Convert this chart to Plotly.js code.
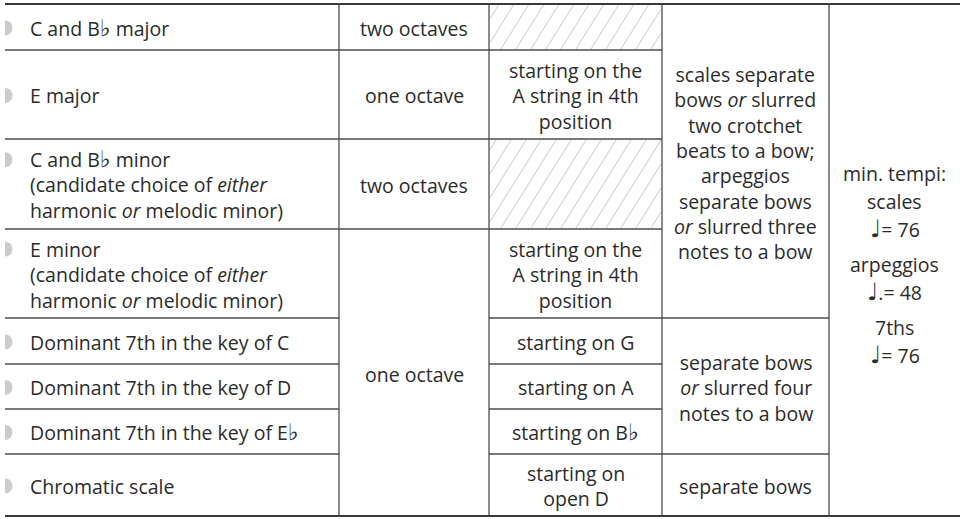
<!DOCTYPE html>
<html>
<head>
<meta charset="utf-8">
<script src="https://cdn.plot.ly/plotly-3.0.1.min.js"></script>
<style>html,body{margin:0;padding:0;background:#fff;}#chart{width:960px;height:519px;}</style>
</head>
<body>
<div id="chart"></div>
<script>
// ---------- DATA (text content and cell spans, by row index) ----------
const FLAT = "<span style=\"font-family:DejaVu Sans;font-weight:bold;font-size:23px\">♭</span>";
const NOTE = "<span style=\"font-family:DejaVu Sans;font-size:24px\">♩</span>";
const rowLabels = [
  ["C and B" + FLAT + " major"],
  ["E major"],
  ["C and B" + FLAT + " minor", "(candidate choice of <i>either</i>", "harmonic <i>or</i> melodic minor)"],
  ["E minor", "(candidate choice of <i>either</i>", "harmonic <i>or</i> melodic minor)"],
  ["Dominant 7th in the key of C"],
  ["Dominant 7th in the key of D"],
  ["Dominant 7th in the key of E" + FLAT],
  ["Chromatic scale"]
];
const rangeCells = [
  {from: 0, to: 0, lines: ["two octaves"]},
  {from: 1, to: 1, lines: ["one octave"]},
  {from: 2, to: 2, lines: ["two octaves"]},
  {from: 3, to: 7, lines: ["one octave"]}
];
const startCells = [
  {from: 0, to: 0, lines: null},
  {from: 1, to: 1, lines: ["starting on the", "A string in 4th", "position"]},
  {from: 2, to: 2, lines: null},
  {from: 3, to: 3, lines: ["starting on the", "A string in 4th", "position"]},
  {from: 4, to: 4, lines: ["starting on G"]},
  {from: 5, to: 5, lines: ["starting on A"]},
  {from: 6, to: 6, lines: ["starting on B" + FLAT]},
  {from: 7, to: 7, lines: ["starting on", "open D"]}
];
const bowingCells = [
  {from: 0, to: 3, lines: ["scales separate", "bows <i>or</i> slurred", "two crotchet", "beats to a bow;",
                           "arpeggios", "separate bows", "<i>or</i> slurred three", "notes to a bow"]},
  {from: 4, to: 6, lines: ["separate bows", "<i>or</i> slurred four", "notes to a bow"]},
  {from: 7, to: 7, lines: ["separate bows"]}
];
const tempoGroups = [
  ["min. tempi:", "scales", NOTE + "= 76"],
  ["arpeggios", NOTE + ".= 48"],
  ["7ths", NOTE + "= 76"]
];

// ---------- LAYOUT / STYLE ----------
const colEdges = [5, 339, 489, 662, 829, 960];
const rowEdges = [4, 50, 139, 229, 318, 364, 409, 454, 516];
const fontSize = 19.5;
const lineH = fontSize * 1.3;       // plotly's own line spacing for <br>
const tempoLineH = 27.5;
const tempoGroupGap = 8;
const tempoShift = 4;
const textFont = {family: "Open Sans, Noto Sans, DejaVu Sans, sans-serif", size: fontSize, color: "#2b2b2b"};
const gridColor = "#4d4d4d";
const borderColor = "#3a3a3a";
const hatchColor = "#c9c9c9";
const bulletColor = "#cccccc";
const hatchStep = 15;
const hatchSlope = 1.6;

const annotations = [];
const shapes = [];

function addText(x, y, lines, anchor) {
  annotations.push({x: x, y: y, xref: "x", yref: "y", text: lines.join("<br>"), showarrow: false,
    align: anchor === "left" ? "left" : "center",
    xanchor: anchor || "center", yanchor: "middle", font: textFont});
}
function spanMid(from, to) { return (rowEdges[from] + rowEdges[to + 1]) / 2; }
function colMid(c) { return (colEdges[c] + colEdges[c + 1]) / 2; }

// column 1: labels with bullets (bullet on the first text line)
rowLabels.forEach((lines, r) => {
  const yc = spanMid(r, r) + 1;
  addText(colEdges[0] + 23, yc, lines, "left");
  const bx = colEdges[0], rr = 7.4;
  const by = yc - (lines.length - 1) / 2 * lineH;
  const k = rr * 4 / 3;
  shapes.push({type: "path", xref: "x", yref: "y",
    path: `M ${bx},${by - rr} C ${bx + k},${by - rr} ${bx + k},${by + rr} ${bx},${by + rr} Z`,
    fillcolor: bulletColor, line: {width: 0}});
});

// spanned columns
[rangeCells, startCells, bowingCells].forEach((cells, i) => {
  const c = i + 1;
  cells.forEach(cell => {
    if (cell.lines) addText(colMid(c), spanMid(cell.from, cell.to) + (cell.to > cell.from ? 2 : 1), cell.lines);
  });
});

// tempo column (all rows merged): one line at a time, groups separated by a small gap
(function () {
  const items = [];
  let y = 0;
  tempoGroups.forEach((g, gi) => {
    g.forEach((t, li) => {
      if (gi > 0 && li === 0) y += tempoGroupGap;
      items.push({y: y, t: t});
      y += tempoLineH;
    });
  });
  const span = items[items.length - 1].y;
  const yc = spanMid(0, rowLabels.length - 1) + tempoShift;
  items.forEach(o => addText(colMid(4), yc - span / 2 + o.y, [o.t]));
})();

// grid lines: horizontal boundaries per column
const colSpans = [
  rowLabels.map((_, r) => ({from: r, to: r})),
  rangeCells, startCells, bowingCells,
  [{from: 0, to: rowLabels.length - 1}]
];
colSpans.forEach((cells, c) => {
  cells.forEach(cell => {
    if (cell.from > 0) {
      shapes.push({type: "line", xref: "x", yref: "y", x0: colEdges[c], x1: colEdges[c + 1],
        y0: rowEdges[cell.from], y1: rowEdges[cell.from], line: {color: gridColor, width: 1.3}});
    }
  });
});
// vertical lines
for (let c = 1; c < colEdges.length - 1; c++) {
  shapes.push({type: "line", xref: "x", yref: "y", x0: colEdges[c], x1: colEdges[c],
    y0: rowEdges[0], y1: rowEdges[rowEdges.length - 1], line: {color: gridColor, width: 1.3}});
}
// top and bottom borders
[rowEdges[0], rowEdges[rowEdges.length - 1]].forEach(y => {
  shapes.push({type: "line", xref: "x", yref: "y", x0: colEdges[0], x1: colEdges[colEdges.length - 1],
    y0: y, y1: y, line: {color: borderColor, width: 2}});
});

// hatching for empty cells
const hx = [], hy = [];
startCells.forEach(cell => {
  if (cell.lines) return;
  const x0 = colEdges[2] + 1, x1 = colEdges[3] - 1;
  const y0 = rowEdges[cell.from] + 1, y1 = rowEdges[cell.to + 1] - 1;
  const H = y1 - y0;
  const startK = Math.floor((x0 - H / hatchSlope) / hatchStep) - 1;
  for (let k = startK; k * hatchStep <= x1 + hatchStep; k++) {
    const xb = k * hatchStep + 6;
    let sx, sy, ex, ey;
    if (xb >= x0) { sx = xb; sy = y1; } else { sx = x0; sy = y1 - (x0 - xb) * hatchSlope; }
    const xt = xb + H / hatchSlope;
    if (xt <= x1) { ex = xt; ey = y0; } else { ex = x1; ey = y1 - (x1 - xb) * hatchSlope; }
    if (sx > x1 || sy < y0 || ex < x0) continue;
    hx.push(sx, ex, null); hy.push(sy, ey, null);
  }
});

const traces = [{x: hx, y: hy, type: "scatter", mode: "lines", hoverinfo: "skip",
  line: {color: hatchColor, width: 1}, showlegend: false}];

const layout = {
  width: 960, height: 519,
  margin: {l: 0, r: 0, t: 0, b: 0},
  paper_bgcolor: "#ffffff", plot_bgcolor: "#ffffff",
  xaxis: {range: [0, 960], visible: false, fixedrange: true},
  yaxis: {range: [519, 0], visible: false, fixedrange: true},
  shapes: shapes,
  annotations: annotations,
  showlegend: false
};
Plotly.newPlot("chart", traces, layout, {staticPlot: true, displayModeBar: false});
</script>
</body>
</html>
